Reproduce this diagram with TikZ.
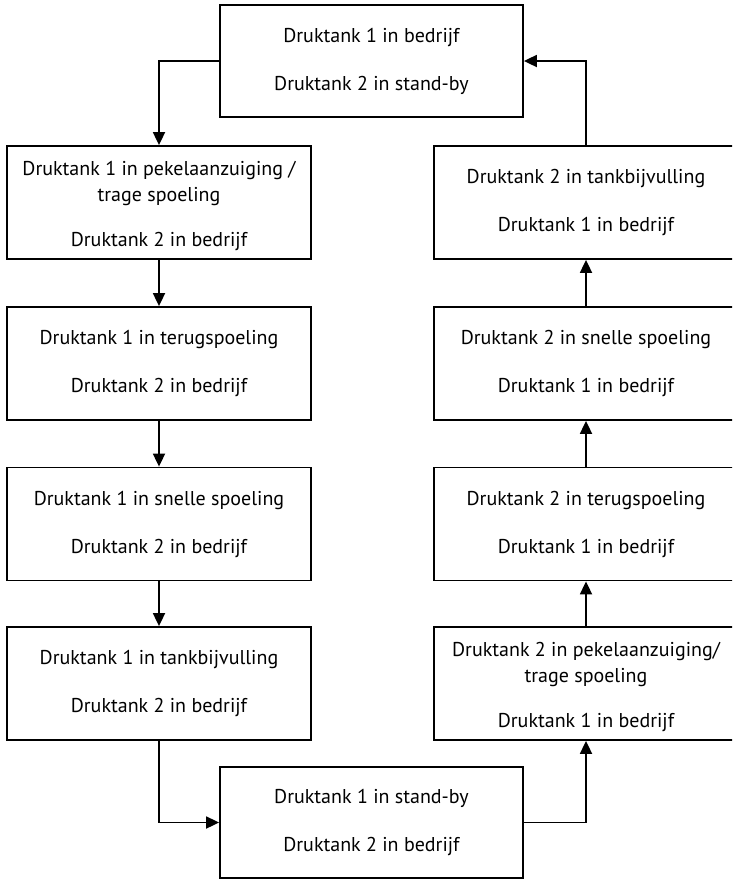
\documentclass[tikz,border=0pt]{standalone}
\usepackage{fontspec}
\setmainfont{PT Sans}
\usetikzlibrary{arrows.meta}
\newcommand{\topstrut}{\rule{0pt}{21pt}}
\begin{document}
\begin{tikzpicture}[x=1pt,y=-1pt,
  box/.style={draw=black, line width=1.8pt, fill=white, minimum width=304pt, minimum height=113pt,
    inner sep=0pt, align=center, font=\fontsize{20}{26}\selectfont},
  conn/.style={draw=black, line width=1.8pt, -{Triangle[length=13pt,width=12pt]}}]
\useasboundingbox (0,0) rectangle (732,879);
\fill[white] (0,0) rectangle (732,879);
\clip (0,0) rectangle (732,879);
\node[box, minimum width=303pt, minimum height=112pt] (top) at (371.5,61) {Druktank 1 in bedrijf\\[22pt]Druktank 2 in stand-by};
\node[box] (l1) at (159,202.5) {\topstrut Druktank 1 in pekelaanzuiging /\\trage spoeling\\[19pt]Druktank 2 in bedrijf};
\node[box] (l2) at (159,363.5) {Druktank 1 in terugspoeling\\[22pt]Druktank 2 in bedrijf};
\node[box] (l3) at (159,524) {Druktank 1 in snelle spoeling\\[22pt]Druktank 2 in bedrijf};
\node[box] (l4) at (159,683.5) {Druktank 1 in tankbijvulling\\[22pt]Druktank 2 in bedrijf};
\node[box, minimum width=303pt, minimum height=111pt] (bot) at (371.5,822.5) {Druktank 1 in stand-by\\[22pt]Druktank 2 in bedrijf};
\node[box] (r4) at (586,683.5) {\topstrut Druktank 2 in pekelaanzuiging/\\trage spoeling\\[19pt]Druktank 1 in bedrijf};
\node[box] (r3) at (586,524) {Druktank 2 in terugspoeling\\[22pt]Druktank 1 in bedrijf};
\node[box] (r2) at (586,363.5) {Druktank 2 in snelle spoeling\\[22pt]Druktank 1 in bedrijf};
\node[box] (r1) at (586,202.5) {Druktank 2 in tankbijvulling\\[22pt]Druktank 1 in bedrijf};
\draw[conn] (top.west) -| (l1.north);
\draw[conn] (l1) -- (l2);
\draw[conn] (l2) -- (l3);
\draw[conn] (l3) -- (l4);
\draw[conn] (l4.south) |- (bot.west);
\draw[conn] (bot.east) -| (r4.south);
\draw[conn] (r4) -- (r3);
\draw[conn] (r3) -- (r2);
\draw[conn] (r2) -- (r1);
\draw[conn] (r1.north) |- (top.east);
\end{tikzpicture}
\end{document}
